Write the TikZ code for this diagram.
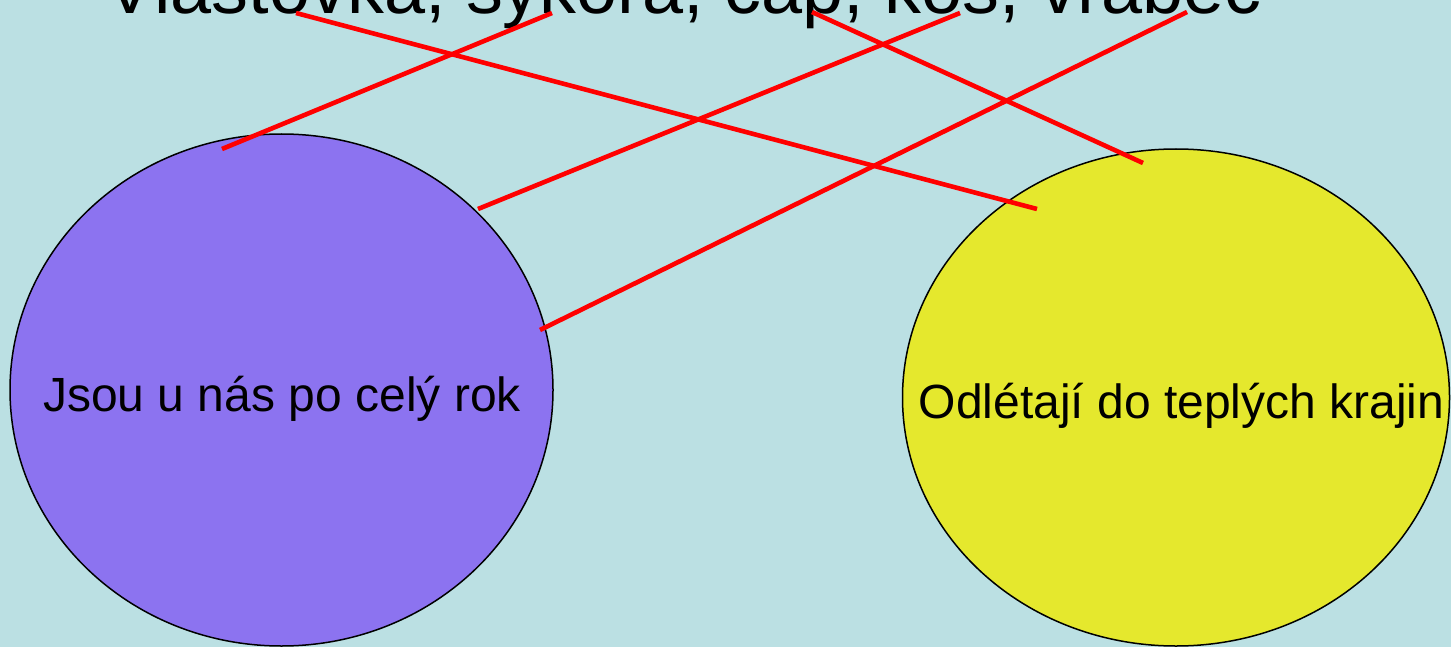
\documentclass[tikz,border=0pt]{standalone}
\usepackage{fontspec}
\setmainfont{Liberation Sans}
\usetikzlibrary{shapes.geometric}
\definecolor{bgblue}{RGB}{187,224,227}
\definecolor{stayviolet}{RGB}{140,115,240}
\definecolor{awayyellow}{RGB}{229,232,45}
\tikzset{
  group/.style={draw, ellipse, line width=0.75pt, inner sep=0pt},
  link/.style={red, line width=2.3pt}
}
\begin{document}
\begin{tikzpicture}[x=0.5pt, y=-0.5pt, line join = round]

\fill[bgblue] (0,0) rectangle (1451,647);
\useasboundingbox (0,0) rectangle (1451,647);

\node[group, fill=stayviolet, minimum width=271.5pt, minimum height=256pt] (stay) at (281.5,390) {};
\node[group, fill=awayyellow, minimum width=273.5pt, minimum height=248.5pt] (away) at (1176,397.5) {};

\node[anchor=base, font=\fontsize{24}{28}\selectfont] (stayText) at (282,411) {Jsou u nás po celý rok};
\node[anchor=base, font=\fontsize{24}{28}\selectfont] (awayText) at (1181.5,418) {Odlétají do teplých krajin};
\node[anchor=base, font=\fontsize{36.9}{44}\selectfont] (birds) at (683.5,14) {Vlaštovka, sýkora, čáp, kos, vrabec};

\coordinate (vl) at (296,13);
\coordinate (sy) at (552,13);
\coordinate (ca) at (812,12);
\coordinate (ko) at (960,13);
\coordinate (vr) at (1187,12);
\coordinate (vlEnd) at (1037,209);
\coordinate (syEnd) at (222,149);
\coordinate (caEnd) at (1143,163);
\coordinate (koEnd) at (478,209);
\coordinate (vrEnd) at (540,330);

\foreach \i in {vl,sy,ca,ko,vr}
 \draw[link] (\i)--(\i End);
\end{tikzpicture}
\end{document}
